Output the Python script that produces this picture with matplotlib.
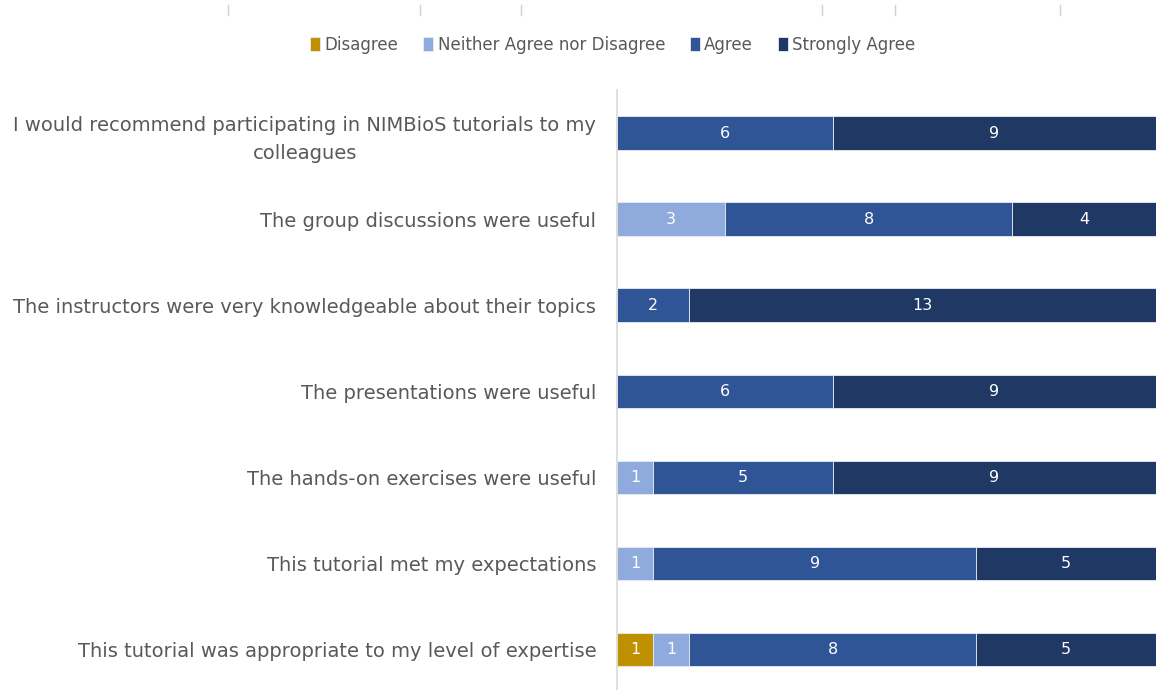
import matplotlib.pyplot as plt
from matplotlib.lines import Line2D
import numpy as np

# -----------------------------
# Data (top to bottom)
# -----------------------------
questions = [
    "I would recommend participating in NIMBioS tutorials to my\ncolleagues",
    "The group discussions were useful",
    "The instructors were very knowledgeable about their topics",
    "The presentations were useful",
    "The hands-on exercises were useful",
    "This tutorial met my expectations",
    "This tutorial was appropriate to my level of expertise",
]
disagree = [0, 0, 0, 0, 0, 0, 1]
neither = [0, 3, 0, 0, 1, 1, 1]
agree = [6, 8, 2, 6, 5, 9, 8]
strongly_agree = [9, 4, 13, 9, 9, 5, 5]

series_names = ["Disagree", "Neither Agree nor Disagree", "Agree", "Strongly Agree"]
series_values = [disagree, neither, agree, strongly_agree]
colors = ["#BF9000", "#8FAADC", "#2F5597", "#203864"]

# stray tick marks at the top of the original image
top_ticks = [228, 420, 521, 822, 895, 1060]

# -----------------------------
# Plot
# -----------------------------
plt.rcParams['font.family'] = ['DejaVu Sans']
fig = plt.figure(figsize=(11.56, 6.9), dpi=100)
ax = fig.add_axes([617 / 1156, -0.004, 1 - 617 / 1156, 0.8736])

y = np.arange(len(questions))
left = np.zeros(len(questions))
handles = []
for name, vals, c in zip(series_names, series_values, colors):
    vals = np.array(vals, dtype=float)
    bars = ax.barh(y, vals, left=left, height=0.39, color=c, edgecolor="#E8ECF4",
                   linewidth=0.6, label=name)
    for yi, l, v in zip(y, left, vals):
        if v > 0:
            ax.text(l + v / 2, yi, f"{int(v)}", ha="center", va="center",
                    color="white", fontsize=11.5)
    left += vals
    handles.append(bars)

ax.set_xlim(0, 15)
ax.set_ylim(len(questions) - 0.5, -0.5)
ax.set_yticks(y)
ax.set_yticklabels(questions, fontsize=14, color="#595959")
for lbl in ax.get_yticklabels():
    lbl.set_multialignment("center")
    lbl.set_linespacing(1.6)
ax.tick_params(axis="y", length=0, pad=15)
ax.set_xticks([])
for s in ["top", "right", "bottom"]:
    ax.spines[s].set_visible(False)
ax.spines["left"].set_color("#D9D9D9")
ax.spines["left"].set_linewidth(1.2)

fig.legend(handles=handles, labels=series_names, loc="center", ncol=4,
           bbox_to_anchor=(613 / 1156, 1 - 45 / 690), frameon=False,
           fontsize=12, handlelength=0.6, handleheight=0.9, handletextpad=0.25,
           columnspacing=1.5, labelcolor="#595959")

for xp in top_ticks:
    fig.add_artist(Line2D([xp / 1156, xp / 1156], [1 - 5 / 690, 1 - 15 / 690],
                          color="#D0D0D0", linewidth=1))

fig.savefig("out.png", dpi=100)
